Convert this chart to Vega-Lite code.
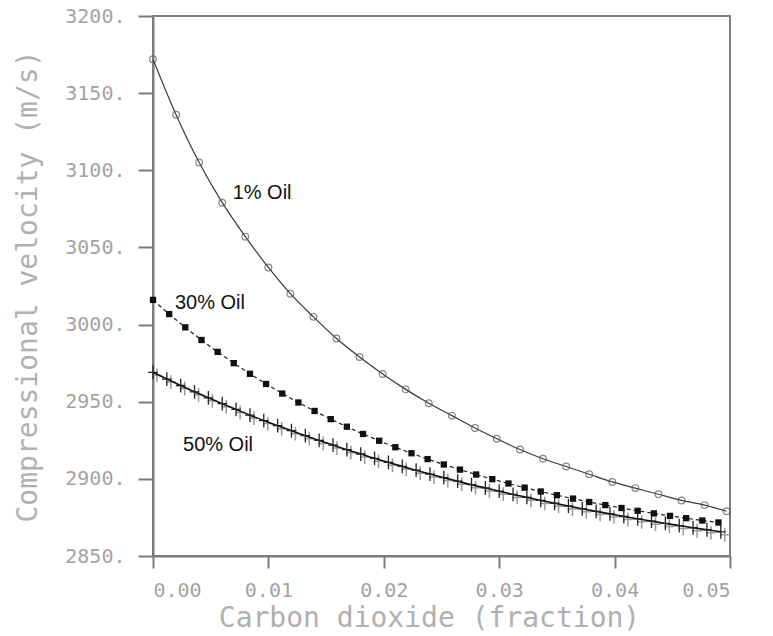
{
  "$schema": "https://vega.github.io/schema/vega-lite/v6.json",
  "width": 577,
  "height": 540,
  "autosize": {"type": "none"},
  "padding": {"left": 153, "top": 16, "right": 43, "bottom": 80},
  "background": "white",
  "config": {
    "view": {"stroke": "#808080", "strokeWidth": 2},
    "axis": {
      "grid": false,
      "domainColor": "#7a7a7a",
      "domainWidth": 2,
      "tickColor": "#7a7a7a",
      "tickWidth": 2,
      "labelFont": "DejaVu Sans Mono",
      "labelColor": "#a3a3a3",
      "titleFont": "DejaVu Sans Mono",
      "titleColor": "#b0b0b0",
      "titleFontWeight": "normal"
    }
  },
  "datasets": {
    "curves": [
      {"series": "1% Oil", "x": 0.0000, "v": 3172},
      {"series": "1% Oil", "x": 0.0020, "v": 3136},
      {"series": "1% Oil", "x": 0.0040, "v": 3105},
      {"series": "1% Oil", "x": 0.0060, "v": 3079},
      {"series": "1% Oil", "x": 0.0080, "v": 3057},
      {"series": "1% Oil", "x": 0.0100, "v": 3037},
      {"series": "1% Oil", "x": 0.0119, "v": 3020},
      {"series": "1% Oil", "x": 0.0139, "v": 3005},
      {"series": "1% Oil", "x": 0.0159, "v": 2991},
      {"series": "1% Oil", "x": 0.0179, "v": 2979},
      {"series": "1% Oil", "x": 0.0199, "v": 2968},
      {"series": "1% Oil", "x": 0.0219, "v": 2958},
      {"series": "1% Oil", "x": 0.0239, "v": 2949},
      {"series": "1% Oil", "x": 0.0259, "v": 2941},
      {"series": "1% Oil", "x": 0.0279, "v": 2933},
      {"series": "1% Oil", "x": 0.0298, "v": 2926},
      {"series": "1% Oil", "x": 0.0318, "v": 2919},
      {"series": "1% Oil", "x": 0.0338, "v": 2913},
      {"series": "1% Oil", "x": 0.0358, "v": 2908},
      {"series": "1% Oil", "x": 0.0378, "v": 2903},
      {"series": "1% Oil", "x": 0.0398, "v": 2898},
      {"series": "1% Oil", "x": 0.0418, "v": 2894},
      {"series": "1% Oil", "x": 0.0438, "v": 2890},
      {"series": "1% Oil", "x": 0.0458, "v": 2886},
      {"series": "1% Oil", "x": 0.0478, "v": 2883},
      {"series": "1% Oil", "x": 0.0497, "v": 2879},
      {"series": "30% Oil", "x": 0.0000, "v": 3016.0},
      {"series": "30% Oil", "x": 0.0014, "v": 3006.8},
      {"series": "30% Oil", "x": 0.0028, "v": 2998.2},
      {"series": "30% Oil", "x": 0.0042, "v": 2990.0},
      {"series": "30% Oil", "x": 0.0056, "v": 2982.3},
      {"series": "30% Oil", "x": 0.0070, "v": 2975.0},
      {"series": "30% Oil", "x": 0.0084, "v": 2968.1},
      {"series": "30% Oil", "x": 0.0098, "v": 2961.5},
      {"series": "30% Oil", "x": 0.0112, "v": 2955.3},
      {"series": "30% Oil", "x": 0.0126, "v": 2949.5},
      {"series": "30% Oil", "x": 0.0140, "v": 2944.0},
      {"series": "30% Oil", "x": 0.0154, "v": 2938.7},
      {"series": "30% Oil", "x": 0.0168, "v": 2933.8},
      {"series": "30% Oil", "x": 0.0182, "v": 2929.1},
      {"series": "30% Oil", "x": 0.0196, "v": 2924.7},
      {"series": "30% Oil", "x": 0.0210, "v": 2920.5},
      {"series": "30% Oil", "x": 0.0224, "v": 2916.6},
      {"series": "30% Oil", "x": 0.0238, "v": 2912.8},
      {"series": "30% Oil", "x": 0.0252, "v": 2909.3},
      {"series": "30% Oil", "x": 0.0266, "v": 2906.0},
      {"series": "30% Oil", "x": 0.0280, "v": 2902.8},
      {"series": "30% Oil", "x": 0.0294, "v": 2899.8},
      {"series": "30% Oil", "x": 0.0308, "v": 2897.0},
      {"series": "30% Oil", "x": 0.0322, "v": 2894.3},
      {"series": "30% Oil", "x": 0.0336, "v": 2891.8},
      {"series": "30% Oil", "x": 0.0350, "v": 2889.4},
      {"series": "30% Oil", "x": 0.0364, "v": 2887.2},
      {"series": "30% Oil", "x": 0.0378, "v": 2885.0},
      {"series": "30% Oil", "x": 0.0392, "v": 2883.0},
      {"series": "30% Oil", "x": 0.0406, "v": 2881.1},
      {"series": "30% Oil", "x": 0.0420, "v": 2879.3},
      {"series": "30% Oil", "x": 0.0434, "v": 2877.6},
      {"series": "30% Oil", "x": 0.0448, "v": 2876.0},
      {"series": "30% Oil", "x": 0.0462, "v": 2874.5},
      {"series": "30% Oil", "x": 0.0476, "v": 2873.0},
      {"series": "30% Oil", "x": 0.0490, "v": 2871.7},
      {"series": "50% Oil", "x": 0.0000, "v": 2969.0},
      {"series": "50% Oil", "x": 0.0012, "v": 2964.7},
      {"series": "50% Oil", "x": 0.0024, "v": 2960.5},
      {"series": "50% Oil", "x": 0.0036, "v": 2956.4},
      {"series": "50% Oil", "x": 0.0048, "v": 2952.5},
      {"series": "50% Oil", "x": 0.0060, "v": 2948.7},
      {"series": "50% Oil", "x": 0.0072, "v": 2945.0},
      {"series": "50% Oil", "x": 0.0084, "v": 2941.3},
      {"series": "50% Oil", "x": 0.0096, "v": 2937.8},
      {"series": "50% Oil", "x": 0.0108, "v": 2934.5},
      {"series": "50% Oil", "x": 0.0120, "v": 2931.2},
      {"series": "50% Oil", "x": 0.0132, "v": 2928.0},
      {"series": "50% Oil", "x": 0.0144, "v": 2924.9},
      {"series": "50% Oil", "x": 0.0156, "v": 2921.9},
      {"series": "50% Oil", "x": 0.0168, "v": 2918.9},
      {"series": "50% Oil", "x": 0.0180, "v": 2916.1},
      {"series": "50% Oil", "x": 0.0192, "v": 2913.3},
      {"series": "50% Oil", "x": 0.0204, "v": 2910.7},
      {"series": "50% Oil", "x": 0.0216, "v": 2908.1},
      {"series": "50% Oil", "x": 0.0228, "v": 2905.6},
      {"series": "50% Oil", "x": 0.0240, "v": 2903.1},
      {"series": "50% Oil", "x": 0.0252, "v": 2900.8},
      {"series": "50% Oil", "x": 0.0264, "v": 2898.5},
      {"series": "50% Oil", "x": 0.0276, "v": 2896.2},
      {"series": "50% Oil", "x": 0.0288, "v": 2894.1},
      {"series": "50% Oil", "x": 0.0300, "v": 2892.0},
      {"series": "50% Oil", "x": 0.0312, "v": 2889.9},
      {"series": "50% Oil", "x": 0.0324, "v": 2888.0},
      {"series": "50% Oil", "x": 0.0336, "v": 2886.0},
      {"series": "50% Oil", "x": 0.0348, "v": 2884.2},
      {"series": "50% Oil", "x": 0.0360, "v": 2882.4},
      {"series": "50% Oil", "x": 0.0372, "v": 2880.6},
      {"series": "50% Oil", "x": 0.0384, "v": 2878.9},
      {"series": "50% Oil", "x": 0.0396, "v": 2877.3},
      {"series": "50% Oil", "x": 0.0408, "v": 2875.6},
      {"series": "50% Oil", "x": 0.0420, "v": 2874.1},
      {"series": "50% Oil", "x": 0.0432, "v": 2872.6},
      {"series": "50% Oil", "x": 0.0444, "v": 2871.1},
      {"series": "50% Oil", "x": 0.0456, "v": 2869.7},
      {"series": "50% Oil", "x": 0.0468, "v": 2868.3},
      {"series": "50% Oil", "x": 0.0480, "v": 2867.0},
      {"series": "50% Oil", "x": 0.0492, "v": 2865.7}
    ],
    "labels": [
      {"label": "1% Oil", "x": 0.0069, "v": 3085},
      {"label": "30% Oil", "x": 0.0019, "v": 3014},
      {"label": "50% Oil", "x": 0.0026, "v": 2922}
    ]
  },
  "encoding": {
    "x": {
      "field": "x",
      "type": "quantitative",
      "scale": {"domain": [0, 0.05], "nice": false, "zero": false},
      "axis": {
        "values": [0, 0.01, 0.02, 0.03, 0.04, 0.05],
        "format": ".2f",
        "tickSize": 12,
        "labelFontSize": 20,
        "labelPadding": 12,
        "labelDx": 16,
        "title": "Carbon dioxide (fraction)",
        "titleFontSize": 28,
        "titlePadding": 4,
        "titleX": 276
      }
    },
    "y": {
      "field": "v",
      "type": "quantitative",
      "scale": {"domain": [2850, 3200], "nice": false, "zero": false},
      "axis": {
        "values": [2850, 2900, 2950, 3000, 3050, 3100, 3150, 3200],
        "labelExpr": "format(datum.value, 'd') + '.'",
        "tickSize": 15,
        "labelFontSize": 20,
        "labelPadding": 13,
        "title": "Compressional velocity (m/s)",
        "titleFontSize": 28,
        "titlePadding": 22
      }
    }
  },
  "layer": [
    {
      "data": {"name": "curves"},
      "transform": [{"filter": "datum.series === '1% Oil'"}],
      "mark": {"type": "line", "color": "#3a3a3a", "strokeWidth": 1.2, "interpolate": "monotone"}
    },
    {
      "data": {"name": "curves"},
      "transform": [{"filter": "datum.series === '1% Oil'"}],
      "mark": {"type": "point", "shape": "circle", "size": 45, "filled": false, "color": "#555555", "strokeWidth": 1.2}
    },
    {
      "data": {"name": "curves"},
      "transform": [{"filter": "datum.series === '30% Oil'"}],
      "mark": {"type": "line", "color": "#222222", "strokeWidth": 1.2, "strokeDash": [4, 3], "interpolate": "monotone"}
    },
    {
      "data": {"name": "curves"},
      "transform": [{"filter": "datum.series === '30% Oil'"}],
      "mark": {"type": "point", "shape": "square", "size": 40, "filled": true, "color": "#111111", "opacity": 1}
    },
    {
      "data": {"name": "curves"},
      "transform": [{"filter": "datum.series === '50% Oil'"}],
      "mark": {"type": "point", "shape": "M0,-1V1M-0.7,0H0.7", "size": 190, "filled": false, "color": "#9a9a9a", "strokeWidth": 1.5, "opacity": 1, "xOffset": 4, "yOffset": 3}
    },
    {
      "data": {"name": "curves"},
      "transform": [{"filter": "datum.series === '50% Oil'"}],
      "mark": {"type": "line", "color": "#111111", "strokeWidth": 1.6, "interpolate": "monotone"}
    },
    {
      "data": {"name": "curves"},
      "transform": [{"filter": "datum.series === '50% Oil'"}],
      "mark": {"type": "point", "shape": "M0,-1V1M-0.7,0H0.7", "size": 190, "filled": false, "color": "#222222", "strokeWidth": 1.3, "opacity": 1}
    },
    {
      "data": {"name": "labels"},
      "mark": {"type": "text", "align": "left", "baseline": "middle", "font": "Liberation Sans", "fontSize": 20, "color": "#111111"},
      "encoding": {"text": {"field": "label"}}
    }
  ]
}
